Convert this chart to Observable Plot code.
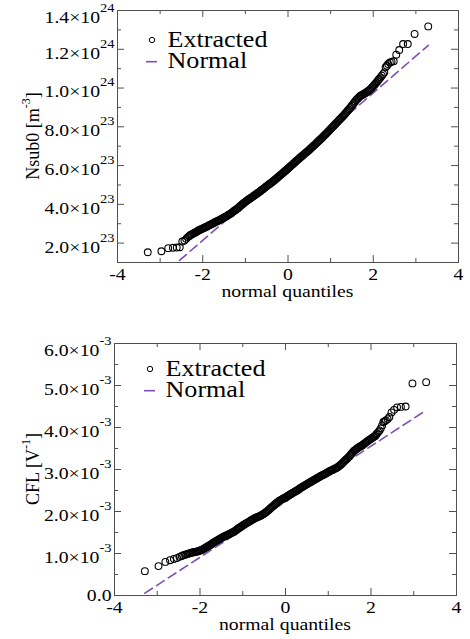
<!DOCTYPE html>
<html><head><meta charset="utf-8">
<script src="https://cdn.jsdelivr.net/npm/d3@7"></script>
<script src="https://cdn.jsdelivr.net/npm/@observablehq/plot@0.6"></script>
<style>
html,body{margin:0;padding:0;background:#fff;}
#chart{width:470px;height:639px;}
#chart svg{display:block;}
</style></head><body><div id="chart"></div>
<script>
// ---- data: [normal quantile, extracted value] ----
// top panel: Nsub0 in units of 1e23 m^-3
const topQQ = [
[-3.29,1.53],[-2.97,1.58],[-2.81,1.74],[-2.70,1.76],[-2.61,1.77],[-2.54,1.79],[-2.48,2.08],[-2.43,2.13],[-2.39,2.22],[-2.35,2.31],[-2.32,2.36],
[-2.300,2.40],[-2.275,2.43],[-2.250,2.46],[-2.225,2.49],[-2.200,2.52],[-2.175,2.55],[-2.150,2.58],[-2.125,2.615],[-2.100,2.65],[-2.075,2.675],
[-2.050,2.70],[-2.025,2.73],[-2.000,2.76],[-1.975,2.785],[-1.950,2.81],[-1.925,2.835],[-1.900,2.86],[-1.875,2.89],[-1.850,2.92],[-1.825,2.945],
[-1.800,2.97],[-1.775,3.00],[-1.750,3.03],[-1.725,3.06],[-1.700,3.09],[-1.675,3.115],[-1.650,3.14],[-1.625,3.17],[-1.600,3.20],[-1.575,3.23],
[-1.550,3.26],[-1.525,3.29],[-1.500,3.32],[-1.475,3.35],[-1.450,3.38],[-1.425,3.415],[-1.400,3.45],[-1.375,3.485],[-1.350,3.52],[-1.325,3.56],
[-1.300,3.60],[-1.275,3.64],[-1.250,3.68],[-1.225,3.72],[-1.200,3.76],[-1.175,3.805],[-1.150,3.85],[-1.125,3.90],[-1.100,3.95],[-1.075,3.995],
[-1.050,4.04],[-1.025,4.085],[-1.000,4.13],[-0.975,4.17],[-0.950,4.21],[-0.925,4.25],[-0.900,4.29],[-0.875,4.325],[-0.850,4.36],[-0.825,4.40],
[-0.800,4.44],[-0.775,4.48],[-0.750,4.52],[-0.725,4.56],[-0.700,4.60],[-0.675,4.64],[-0.650,4.68],[-0.625,4.725],[-0.600,4.77],[-0.575,4.81],
[-0.550,4.85],[-0.525,4.895],[-0.500,4.94],[-0.475,4.98],[-0.450,5.02],[-0.425,5.06],[-0.400,5.10],[-0.375,5.145],[-0.350,5.19],[-0.325,5.235],
[-0.300,5.28],[-0.275,5.325],[-0.250,5.37],[-0.225,5.42],[-0.200,5.47],[-0.175,5.515],[-0.150,5.56],[-0.125,5.61],[-0.100,5.66],[-0.075,5.705],
[-0.050,5.75],[-0.025,5.80],[0.000,5.85],[0.025,5.90],[0.050,5.95],[0.075,6.00],[0.100,6.05],[0.125,6.10],[0.150,6.15],[0.175,6.20],
[0.200,6.25],[0.225,6.295],[0.250,6.34],[0.275,6.39],[0.300,6.44],[0.325,6.485],[0.350,6.53],[0.375,6.58],[0.400,6.63],[0.425,6.675],
[0.450,6.72],[0.475,6.77],[0.500,6.82],[0.525,6.87],[0.550,6.92],[0.575,6.97],[0.600,7.02],[0.625,7.07],[0.650,7.12],[0.675,7.175],
[0.700,7.23],[0.725,7.28],[0.750,7.33],[0.775,7.385],[0.800,7.44],[0.825,7.495],[0.850,7.55],[0.875,7.605],[0.900,7.66],[0.925,7.715],
[0.950,7.77],[0.975,7.83],[1.000,7.89],[1.025,7.945],[1.050,8.00],[1.075,8.06],[1.100,8.12],[1.125,8.175],[1.150,8.23],[1.175,8.29],
[1.200,8.35],[1.225,8.405],[1.250,8.46],[1.275,8.515],[1.300,8.57],[1.325,8.635],[1.350,8.70],[1.375,8.765],[1.400,8.83],[1.425,8.895],
[1.450,8.96],[1.475,9.03],[1.500,9.10],[1.525,9.17],[1.550,9.24],[1.575,9.31],[1.600,9.38],[1.625,9.435],[1.650,9.49],[1.675,9.545],
[1.700,9.60],[1.725,9.63],[1.750,9.66],[1.775,9.69],[1.800,9.72],[1.825,9.76],[1.850,9.80],[1.875,9.835],[1.900,9.87],[1.925,9.925],
[1.950,9.98],[1.975,10.04],[2.000,10.10],[2.025,10.16],[2.050,10.22],[2.075,10.285],
[2.10,10.35],[2.12,10.42],[2.14,10.47],[2.17,10.55],[2.20,10.64],[2.23,10.72],[2.26,10.81],[2.29,11.07],[2.32,11.15],[2.35,11.24],
[2.39,11.32],[2.43,11.35],[2.48,11.38],[2.54,11.72],[2.61,11.96],[2.70,12.27],[2.81,12.27],[2.97,12.79],[3.29,13.18]
];
// bottom panel: CFL in units of 1e-3 V^-1
const botQQ = [
[-3.29,0.58],[-2.97,0.70],[-2.81,0.80],[-2.70,0.84],[-2.61,0.87],[-2.54,0.89],[-2.48,0.92],[-2.43,0.94],[-2.39,0.96],[-2.35,0.97],
[-2.32,0.98],[-2.29,0.99],[-2.26,1.00],[-2.23,1.01],
[-2.200,1.02],[-2.175,1.025],[-2.150,1.03],[-2.125,1.035],[-2.100,1.04],[-2.075,1.045],[-2.050,1.05],[-2.025,1.06],[-2.000,1.07],[-1.975,1.08],
[-1.950,1.09],[-1.925,1.105],[-1.900,1.12],[-1.875,1.135],[-1.850,1.15],[-1.825,1.165],[-1.800,1.18],[-1.775,1.195],[-1.750,1.21],[-1.725,1.23],
[-1.700,1.25],[-1.675,1.265],[-1.650,1.28],[-1.625,1.295],[-1.600,1.31],[-1.575,1.325],[-1.550,1.34],[-1.525,1.355],[-1.500,1.37],[-1.475,1.385],
[-1.450,1.40],[-1.425,1.41],[-1.400,1.42],[-1.375,1.435],[-1.350,1.45],[-1.325,1.46],[-1.300,1.47],[-1.275,1.485],[-1.250,1.50],[-1.225,1.51],
[-1.200,1.52],[-1.175,1.54],[-1.150,1.56],[-1.125,1.58],[-1.100,1.60],[-1.075,1.615],[-1.050,1.63],[-1.025,1.65],[-1.000,1.67],[-0.975,1.685],
[-0.950,1.70],[-0.925,1.715],[-0.900,1.73],[-0.875,1.745],[-0.850,1.76],[-0.825,1.775],[-0.800,1.79],[-0.775,1.805],[-0.750,1.82],[-0.725,1.835],
[-0.700,1.85],[-0.675,1.86],[-0.650,1.87],[-0.625,1.88],[-0.600,1.89],[-0.575,1.905],[-0.550,1.92],[-0.525,1.935],[-0.500,1.95],[-0.475,1.97],
[-0.450,1.99],[-0.425,2.01],[-0.400,2.03],[-0.375,2.055],[-0.350,2.08],[-0.325,2.10],[-0.300,2.12],[-0.275,2.145],[-0.250,2.17],[-0.225,2.19],
[-0.200,2.21],[-0.175,2.23],[-0.150,2.25],[-0.125,2.265],[-0.100,2.28],[-0.075,2.295],[-0.050,2.31],[-0.025,2.32],[0.000,2.33],[0.025,2.35],
[0.050,2.37],[0.075,2.385],[0.100,2.40],[0.125,2.415],[0.150,2.43],[0.175,2.445],[0.200,2.46],[0.225,2.475],[0.250,2.49],[0.275,2.505],
[0.300,2.52],[0.325,2.54],[0.350,2.56],[0.375,2.575],[0.400,2.59],[0.425,2.605],[0.450,2.62],[0.475,2.635],[0.500,2.65],[0.525,2.665],
[0.550,2.68],[0.575,2.695],[0.600,2.71],[0.625,2.725],[0.650,2.74],[0.675,2.755],[0.700,2.77],[0.725,2.785],[0.750,2.80],[0.775,2.815],
[0.800,2.83],[0.825,2.845],[0.850,2.86],[0.875,2.87],[0.900,2.88],[0.925,2.895],[0.950,2.91],[0.975,2.925],[1.000,2.94],[1.025,2.955],
[1.050,2.97],[1.075,2.98],[1.100,2.99],[1.125,3.005],[1.150,3.02],[1.175,3.03],[1.200,3.04],[1.225,3.06],[1.250,3.08],[1.275,3.10],
[1.300,3.12],[1.325,3.145],[1.350,3.17],[1.375,3.195],[1.400,3.22],[1.425,3.245],[1.450,3.27],[1.475,3.295],[1.500,3.32],[1.525,3.35],
[1.550,3.38],[1.575,3.41],[1.600,3.44],[1.625,3.46],[1.650,3.48],[1.675,3.50],[1.700,3.52],[1.725,3.535],[1.750,3.55],[1.775,3.565],
[1.800,3.58],[1.825,3.60],[1.850,3.62],[1.875,3.64],[1.900,3.66],[1.925,3.68],[1.950,3.70],[1.975,3.715],[2.000,3.73],[2.025,3.75],
[2.050,3.77],[2.075,3.785],
[2.10,3.80],[2.12,3.83],[2.14,3.86],[2.17,3.89],[2.20,3.93],[2.23,3.98],[2.26,4.05],[2.29,4.13],[2.32,4.15],[2.35,4.17],
[2.39,4.20],[2.43,4.25],[2.48,4.36],[2.54,4.42],[2.61,4.48],[2.70,4.49],[2.81,4.50],[2.97,5.05],[3.29,5.08]
];
// fitted normal reference lines (end points)
const NORMAL_Q = [-3.29, 3.29];
const TOP_NORMAL = [-0.31, 12.2];
const BOT_NORMAL = [0.055, 4.41];

// ticks and labels
const X_TICKS = [-4, -2, 0, 2, 4];
const X_MINOR = [-3, -1, 1, 3];
const TOP_Y_TICKS = [2, 4, 6, 8, 10, 12, 14];
const TOP_Y_LABELS = ["2.0×10^23","4.0×10^23","6.0×10^23","8.0×10^23","1.0×10^24","1.2×10^24","1.4×10^24"];
const TOP_Y_MINOR = [1, 3, 5, 7, 9, 11, 13];
const BOT_Y_TICKS = [0, 1, 2, 3, 4, 5, 6];
const BOT_Y_LABELS = ["0.0","1.0×10^-3","2.0×10^-3","3.0×10^-3","4.0×10^-3","5.0×10^-3","6.0×10^-3"];
const BOT_Y_MINOR = [0.5, 1.5, 2.5, 3.5, 4.5, 5.5];
const X_TITLE = "normal quantiles";
const LEGEND = ["Extracted", "Normal"];

const PURPLE = "#7d50b2";
const AXIS = "#505050";
const FONT = "Liberation Serif, Times New Roman, serif";
const STRETCH = 1.16;
const NS = "http://www.w3.org/2000/svg";

function font(el, size) {
  el.style.fontFamily = FONT;
  el.style.fontSize = size + "px";
  el.style.fill = "#000";
}
// horizontal stretch about the text's anchor point (the reference is drawn wide)
function stretch(el, k) {
  const ax = parseFloat(el.getAttribute("x")) || 0;
  const prev = el.getAttribute("transform") || "";
  el.setAttribute("transform", `${prev} translate(${ax},0) scale(${k},1) translate(${-ax},0)`);
}
function supify(el, s, baseDy) {
  const [b, e] = s.split("^");
  el.textContent = "";
  const t1 = document.createElementNS(NS, "tspan");
  t1.textContent = b;
  if (baseDy) t1.setAttribute("dy", baseDy);
  el.appendChild(t1);
  const t2 = document.createElementNS(NS, "tspan");
  t2.textContent = e;
  t2.setAttribute("dy", -11);
  t2.style.fontSize = "12.5px";
  el.appendChild(t2);
}

function panel(cfg) {
  const fw = 470 - cfg.ml - cfg.mr, fh = cfg.h - cfg.mt - cfg.mb;
  const pts = cfg.qq.map(([q, v]) => ({q, v}));
  const norm = NORMAL_Q.map((q, i) => ({q, v: cfg.normal[i]}));
  const lab = new Map(cfg.yTicks.map((t, i) => [t, cfg.yLabels[i]]));
  const svg = Plot.plot({
    width: 470, height: cfg.h,
    marginTop: cfg.mt, marginRight: cfg.mr, marginBottom: cfg.mb, marginLeft: cfg.ml,
    style: {fontFamily: FONT, fontSize: "17px", color: "#000", background: "#fff", overflow: "visible"},
    x: {domain: [-4, 4]},
    y: {domain: cfg.yDomain},
    marks: [
      Plot.line(norm, {x: "q", y: "v", stroke: PURPLE, strokeWidth: 1.6, strokeDasharray: "9,5", clip: true}),
      Plot.dot(pts, {x: "q", y: "v", r: 3.4, stroke: "#000", strokeWidth: 1.1, fill: "none"}),
      Plot.tickX(X_TICKS, {x: d => d, insetTop: fh - 7, stroke: AXIS}),
      Plot.tickX(X_TICKS, {x: d => d, insetBottom: fh - 7, stroke: AXIS}),
      Plot.tickX(X_MINOR, {x: d => d, insetTop: fh - 4, stroke: AXIS}),
      Plot.tickX(X_MINOR, {x: d => d, insetBottom: fh - 4, stroke: AXIS}),
      Plot.tickY(cfg.yTicks, {y: d => d, insetRight: fw - 7, stroke: AXIS}),
      Plot.tickY(cfg.yTicks, {y: d => d, insetLeft: fw - 7, stroke: AXIS}),
      Plot.tickY(cfg.yMinor, {y: d => d, insetRight: fw - 4, stroke: AXIS}),
      Plot.tickY(cfg.yMinor, {y: d => d, insetLeft: fw - 4, stroke: AXIS}),
      Plot.frame({stroke: AXIS}),
      Plot.axisX({ticks: X_TICKS, tickSize: 0, tickPadding: 5, tickFormat: d => String(d), label: null, fontSize: 17}),
      Plot.axisY({ticks: cfg.yTicks, tickSize: 0, tickPadding: 3, tickFormat: d => lab.get(d), label: null, fontSize: 17})
    ]
  });
  document.getElementById("chart").appendChild(svg);
  const top = cfg.yLabels[cfg.yLabels.length - 1];
  svg.querySelectorAll('g[aria-label="y-axis tick label"] text').forEach(t => {
    font(t, 17);
    const s = t.textContent;
    if (s.includes("^")) supify(t, s, s === top ? 7 : 4);
    stretch(t, STRETCH);
  });
  svg.querySelectorAll('g[aria-label="x-axis tick label"] text').forEach(t => { font(t, 17); stretch(t, STRETCH); });

  const g = d3.select(svg).append("g");
  // x title
  const xt = g.append("text").attr("x", cfg.ml + fw / 2).attr("y", cfg.mt + fh + 35.5)
    .attr("text-anchor", "middle").text(X_TITLE);
  font(xt.node(), 17);
  stretch(xt.node(), STRETCH);
  // y title (rotated)
  const yt = g.append("text").attr("transform", `translate(39,${cfg.mt + fh / 2}) rotate(-90)`)
    .attr("text-anchor", "middle");
  font(yt.node(), 18);
  yt.append("tspan").text(cfg.yTitle[0]);
  yt.append("tspan").attr("dy", -9).style("font-size", "12px").text(cfg.yTitle[1]);
  yt.append("tspan").attr("dy", 9).text(cfg.yTitle[2]);
  // legend
  const L = cfg.legend;
  g.append("circle").attr("cx", L.x + 5).attr("cy", L.y).attr("r", 2.7)
    .attr("fill", "none").attr("stroke", "#000").attr("stroke-width", 1);
  const t1 = g.append("text").attr("x", L.x + 20.5).attr("y", L.y + 6.8).attr("text-anchor", "start").text(LEGEND[0]);
  font(t1.node(), 22.5);
  stretch(t1.node(), STRETCH);
  g.append("line").attr("x1", L.x - 1).attr("x2", L.x + 10).attr("y1", L.y + 21.7).attr("y2", L.y + 21.7)
    .attr("stroke", PURPLE).attr("stroke-width", 1.6);
  const t2 = g.append("text").attr("x", L.x + 20.5).attr("y", L.y + 28.4).attr("text-anchor", "start").text(LEGEND[1]);
  font(t2.node(), 22.5);
  stretch(t2.node(), STRETCH);
}

panel({
  qq: topQQ, normal: TOP_NORMAL, yDomain: [1, 14],
  yTicks: TOP_Y_TICKS, yLabels: TOP_Y_LABELS, yMinor: TOP_Y_MINOR,
  h: 305, mt: 10, mb: 43, ml: 117, mr: 12,
  yTitle: ["Nsub0 [m", "-3", "]"],
  legend: {x: 147, y: 40}
});
panel({
  qq: botQQ, normal: BOT_NORMAL, yDomain: [0, 6],
  yTicks: BOT_Y_TICKS, yLabels: BOT_Y_LABELS, yMinor: BOT_Y_MINOR,
  h: 334, mt: 38, mb: 44, ml: 114, mr: 14,
  yTitle: ["CFL [V", "-1", "]"],
  legend: {x: 145, y: 369 - 305}
});
</script>
</body></html>
